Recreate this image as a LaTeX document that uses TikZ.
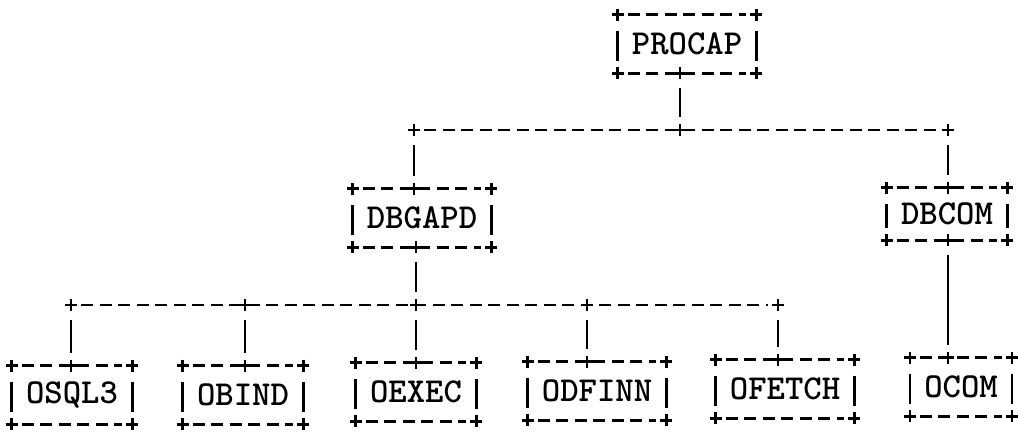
\documentclass[tikz,border=0pt]{standalone}
\usetikzlibrary{positioning}
\begin{document}
\begin{tikzpicture}[x=1pt, y=-1pt, line width=2.7pt,
    box/.style={font=\ttfamily\bfseries\fontsize{35}{40}\selectfont, inner xsep=13pt, inner ysep=0pt, minimum height=56pt},
    bar/.style={dash pattern=on 12pt off 6.5pt, shorten <=10pt, shorten >=10pt},
    side/.style={shorten <=16pt, shorten >=12pt},
    link/.style={shorten <=15pt, shorten >=13pt},
    plusmark/.pic={\draw[solid] (-6,0) -- (6,0) (0,-6) -- (0,6);}]

    \useasboundingbox (0,0) rectangle (1018,433);

    % Define nodes
    \node [box] (procap) at (687,44) {PROCAP};
    \node [box] (dbgapd) at (422,218) {DBGAPD};
    \node [box, minimum height=50pt] (dbcom) at (947,214) {DBCOM};
    \node [box] (osql3) at (72,395) {OSQL3};
    \node [box] (obind) at (243,395) {OBIND};
    \node [box] (oexec) at (416,392) {OEXEC};
    \node [box] (odfinn) at (597,391) {ODFINN};
    \node [box] (ofetch) at (785,389) {OFETCH};
    \node [box] (ocom) at (961,387) {OCOM};

    % Junctions on the buses
    \coordinate (top1) at (414,130);
    \coordinate (top2) at (680,130);
    \coordinate (top3) at (948,130);
    \coordinate (low1) at (71,305);
    \coordinate (low2) at (245,305);
    \coordinate (low3) at (416,305);
    \coordinate (low4) at (587,305);
    \coordinate (low5) at (778,305);

    % Box frames
    \foreach \n in {procap,dbgapd,dbcom,osql3,obind,oexec,odfinn,ofetch,ocom}{
        \draw [bar] (\n.north west) -- (\n.north east);
        \draw [bar] (\n.south west) -- (\n.south east);
        \draw [side] (\n.north west) -- (\n.south west);
        \draw [side] (\n.north east) -- (\n.south east);
        \foreach \a in {north west,north east,south west,south east}
            \pic at (\n.\a) {plusmark};
    }

    % Buses
    \draw [bar] (top1) -- (top3);
    \draw [bar] (low1) -- (low5);

    % Draw edges
    \draw [link] (procap.south -| top2) -- (top2);
    \draw [link] (top1) -- (top1 |- dbgapd.north);
    \draw [link] (top3) -- (top3 |- dbcom.north);
    \draw [link] (dbgapd.south -| low3) -- (low3);
    \draw [link] (dbcom.south -| top3) -- (top3 |- ocom.north);
    \foreach \j/\n in {low1/osql3,low2/obind,low3/oexec,low4/odfinn,low5/ofetch}{
        \draw [link] (\j) -- (\j |- \n.north);
        \pic at (\j |- \n.north) {plusmark};
    }

    % Crossings
    \foreach \p in {top1,top2,top3,low1,low2,low3,low4,low5}
        \pic at (\p) {plusmark};
    \pic at (procap.south -| top2) {plusmark};
    \pic at (dbgapd.north -| top1) {plusmark};
    \pic at (dbgapd.south -| low3) {plusmark};
    \pic at (dbcom.north -| top3) {plusmark};
    \pic at (dbcom.south -| top3) {plusmark};
    \pic at (ocom.north -| top3) {plusmark};

\end{tikzpicture}
\end{document}
